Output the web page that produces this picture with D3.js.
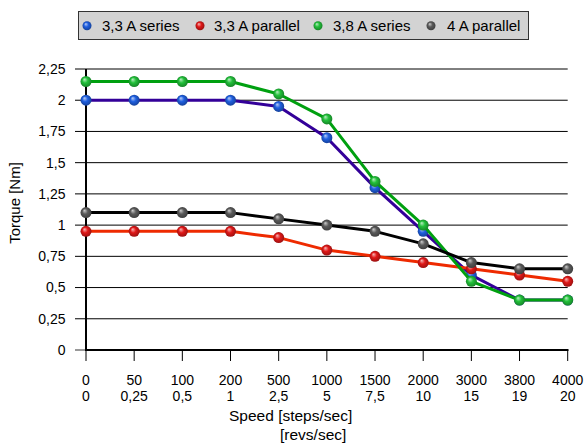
<!DOCTYPE html>
<html><head><meta charset="utf-8">
<script src="https://cdn.jsdelivr.net/npm/d3@7"></script>
<style>
html,body{margin:0;padding:0;background:#fff;}
svg{display:block;font-family:"Liberation Sans",Arial,sans-serif;}
</style>
</head><body>
<svg id="c" width="588" height="446"></svg>
<script>
const stepsLabels = ["0","50","100","200","500","1000","1500","2000","3000","3800","4000"];
const revsLabels  = ["0","0,25","0,5","1","2,5","5","7,5","10","15","19","20"];
const seriesNames = ["3,3 A series","3,3 A parallel","3,8 A series","4 A parallel"];
const s33series   = [2,2,2,2,1.95,1.7,1.3,0.95,0.6,0.4,0.4];
const s33parallel = [0.95,0.95,0.95,0.95,0.9,0.8,0.75,0.7,0.65,0.6,0.55];
const s38series   = [2.15,2.15,2.15,2.15,2.05,1.85,1.35,1.0,0.55,0.4,0.4];
const s4parallel  = [1.1,1.1,1.1,1.1,1.05,1.0,0.95,0.85,0.7,0.65,0.65];
const yTicks = [0,0.25,0.5,0.75,1,1.25,1.5,1.75,2,2.25];
const yTickLabels = ["0","0,25","0,5","0,75","1","1,25","1,5","1,75","2","2,25"];

const seriesData = [s33series, s33parallel, s38series, s4parallel];
const lineColors = ["#330099","#ee2a00","#00a010","#000000"];
const markerColors = ["#1f5fe0","#e01818","#22c03a","#5a5a5a"];

const svg = d3.select("#c");
const x = d3.scalePoint().domain(stepsLabels).range([86, 567.7]).padding(0);
const y = d3.scaleLinear().domain([0, 2.25]).range([350, 69]);

// gradients
const defs = svg.append("defs");
markerColors.forEach((c, i) => {
  const g = defs.append("radialGradient").attr("id", "g" + i)
    .attr("cx", "50%").attr("cy", "50%").attr("r", "55%")
    .attr("fx", "35%").attr("fy", "30%");
  g.append("stop").attr("offset", "0%").attr("stop-color", d3.interpolateRgb(c, "#fff")(0.7));
  g.append("stop").attr("offset", "45%").attr("stop-color", c);
  g.append("stop").attr("offset", "100%").attr("stop-color", d3.color(c).darker(1.2));
});

// gridlines with left ticks
svg.append("g").selectAll("line").data(yTicks.slice(1)).join("line")
  .attr("x1", 75).attr("x2", 567.7)
  .attr("y1", d => y(d)).attr("y2", d => y(d))
  .attr("stroke", "#000").attr("stroke-width", 1);
// zero tick
svg.append("line").attr("x1", 75).attr("x2", 86).attr("y1", y(0)).attr("y2", y(0))
  .attr("stroke", "#777").attr("stroke-width", 1.5);

// y tick labels
svg.append("g").selectAll("text").data(yTicks).join("text")
  .attr("x", 65.5).attr("y", d => y(d)).attr("dy", "0.35em")
  .attr("text-anchor", "end").attr("font-size", 14).attr("fill", "#000")
  .text((d, i) => yTickLabels[i]);

// x ticks
svg.append("g").selectAll("line").data(stepsLabels).join("line")
  .attr("x1", d => x(d)).attr("x2", d => x(d))
  .attr("y1", 350).attr("y2", 361)
  .attr("stroke", "#000").attr("stroke-width", 1);

// axes lines
svg.append("line").attr("x1", 86).attr("x2", 86).attr("y1", y(2.25)).attr("y2", 351)
  .attr("stroke", "#000").attr("stroke-width", 2);
svg.append("line").attr("x1", 85).attr("x2", 568.5).attr("y1", 350).attr("y2", 350)
  .attr("stroke", "#000").attr("stroke-width", 2);

// x tick labels (two rows)
svg.append("g").selectAll("text").data(stepsLabels).join("text")
  .attr("x", d => x(d)).attr("y", 385)
  .attr("text-anchor", "middle").attr("font-size", 14).text(d => d);
svg.append("g").selectAll("text").data(revsLabels).join("text")
  .attr("x", (d, i) => x(stepsLabels[i])).attr("y", 401)
  .attr("text-anchor", "middle").attr("font-size", 14).text(d => d);

// axis titles
svg.append("text").attr("x", 229).attr("y", 421).attr("font-size", 15.5).text("Speed [steps/sec]");
svg.append("text").attr("x", 280).attr("y", 440).attr("font-size", 15.5).text("[revs/sec]");
svg.append("text").attr("transform", "translate(20,203) rotate(-90)")
  .attr("text-anchor", "middle").attr("font-size", 15).text("Torque [Nm]");

// lines and markers
const line = d3.line().x((d, i) => x(stepsLabels[i])).y(d => y(d));
seriesData.forEach((vals, si) => {
  const g = svg.append("g");
  g.append("path").attr("d", line(vals)).attr("fill", "none")
    .attr("stroke", lineColors[si]).attr("stroke-width", 3).attr("stroke-linejoin", "round");
  g.selectAll("circle").data(vals).join("circle")
    .attr("cx", (d, i) => x(stepsLabels[i])).attr("cy", d => y(d)).attr("r", 5.5)
    .attr("fill", "url(#g" + si + ")");
});

// legend
const leg = svg.append("g");
leg.append("rect").attr("x", 78.5).attr("y", 11.5).attr("width", 450).attr("height", 28)
  .attr("fill", "#d3d3d3").attr("stroke", "#333").attr("stroke-width", 1);
const legMarkX = [87, 200, 318, 431];
const legTextX = [102, 214, 333, 447];
seriesNames.forEach((n, i) => {
  leg.append("circle").attr("cx", legMarkX[i]).attr("cy", 25.7).attr("r", 4.5)
    .attr("fill", "url(#g" + i + ")");
  leg.append("text").attr("x", legTextX[i]).attr("y", 25.7).attr("dy", "0.35em")
    .attr("font-size", 15).text(n);
});
</script>
</body></html>
